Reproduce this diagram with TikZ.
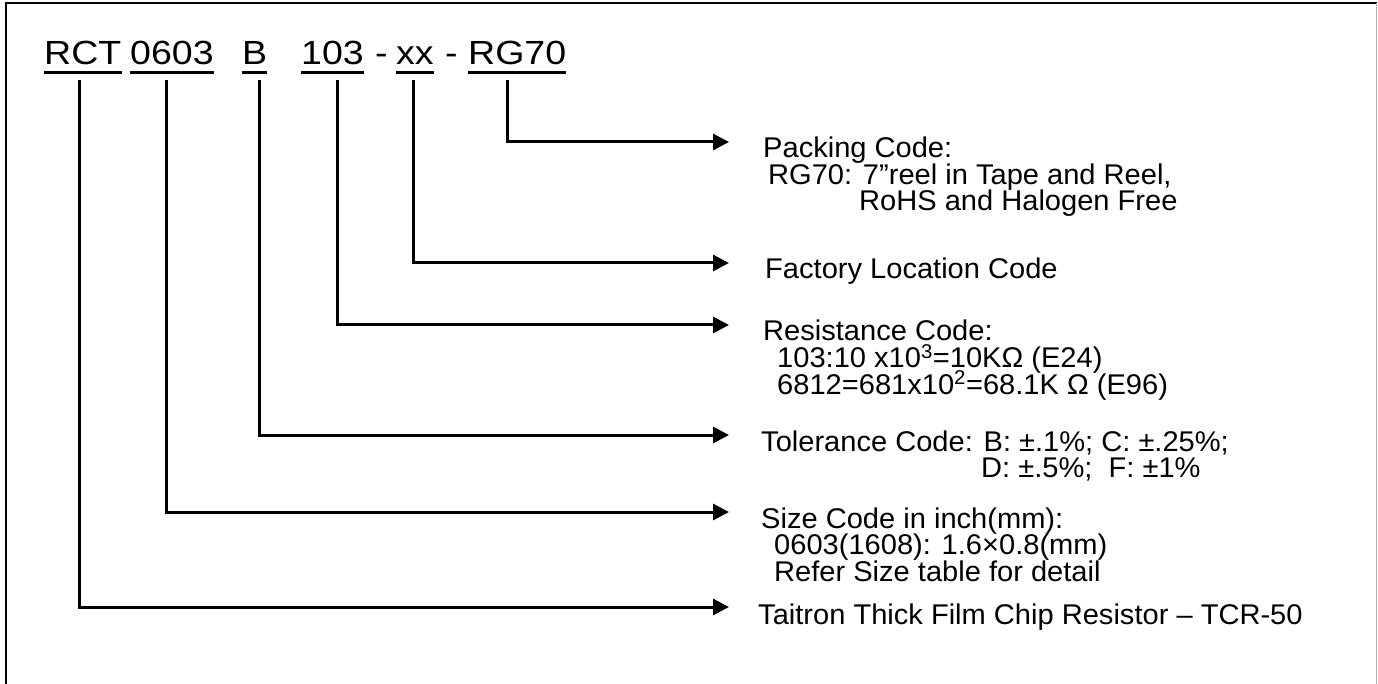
\documentclass[tikz,border=0pt]{standalone}
\usepackage{fontspec}
\setmainfont{Liberation Sans}
\newfontfamily\bodyfont[FakeStretch=1.02]{Liberation Sans}
\newfontfamily\titlefont[FakeStretch=1.12]{Liberation Sans}
\usetikzlibrary{arrows.meta,calc}
\begin{document}
\begin{tikzpicture}[x=1pt,y=-1pt,
  tok/.style={inner sep=0pt,anchor=base west,font=\titlefont\fontsize{33.5}{36}\selectfont},
  txt/.style={inner sep=0pt,anchor=base west,font=\bodyfont\fontsize{28.5}{30}\selectfont},
  conn/.style={line width=3pt,-{Triangle[length=16pt,width=16pt]}},
  uline/.style={line width=2.5pt}]
\useasboundingbox (0,0) rectangle (1378,684);
% frame
\draw[line width=2pt] (5.5,684) -- (5.5,3.5) -- (1376.5,3.5);
\draw[gray!60,line width=1pt] (1376.5,3.5) -- (1376.5,684);
% title tokens
\node[tok] (rct) at (44,65) {RCT};
\node[tok] (size) at (130,65) {0603};
\node[tok] (tol) at (242,65) {B};
\node[tok] (res) at (301,65) {103};
\node[tok] (d1) at (375,65) {-};
\node[tok] (fac) at (396,65) {xx};
\node[tok] (d2) at (445,65) {-};
\node[tok] (pack) at (468,65) {RG70};
\foreach \t in {rct,size,tol,res,fac,pack}
  \draw[uline] ($(\t.base west)+(0,7.5)$) -- ($(\t.base east)+(0,7.5)$);
% connector tops
\coordinate (trct) at (79,80);
\coordinate (tsize) at (166,80);
\coordinate (ttol) at (259,80);
\coordinate (tres) at (337,80);
\coordinate (tfac) at (413,80);
\coordinate (tpack) at (507,80);
% arrow tips
\coordinate (apack) at (729,142);
\coordinate (afac) at (729,263);
\coordinate (ares) at (729,325);
\coordinate (atol) at (729,435);
\coordinate (asize) at (729,512);
\coordinate (arct) at (729,607);
\draw[conn] (tpack) |- (apack);
\draw[conn] (tfac) |- (afac);
\draw[conn] (tres) |- (ares);
\draw[conn] (ttol) |- (atol);
\draw[conn] (tsize) |- (asize);
\draw[conn] (trct) |- (arct);
% descriptions
\node[txt] (p1) at (763,158) {Packing Code:};
\node[txt] (p2) at (768,184.5) {RG70: 7”reel in Tape and Reel,};
\node[txt] (p3) at (859,211) {RoHS and Halogen Free};
\node[txt] (f1) at (765,279) {Factory Location Code};
\node[txt] (r1) at (763,341) {Resistance Code:};
\node[txt] (r2) at (777,367.5) {103:10 x10\smash{\textsuperscript{3}}=10KΩ (E24)};
\node[txt] (r3) at (777,394) {6812=681x10\smash{\textsuperscript{2}}=68.1K Ω (E96)};
\node[txt] (t1) at (761,451) {Tolerance Code: B: ±.1\%; C: ±.25\%;};
\node[txt] (t2) at (981,477.5) {D: ±.5\%;\ \ F: ±1\%};
\node[txt] (s1) at (761,528) {Size Code in inch(mm):};
\node[txt] (s2) at (774,554.5) {0603(1608): 1.6×0.8(mm)};
\node[txt] (s3) at (774,581) {Refer Size table for detail};
\node[txt] (c1) at (758,624) {Taitron Thick Film Chip Resistor – TCR-50};
\end{tikzpicture}
\end{document}
